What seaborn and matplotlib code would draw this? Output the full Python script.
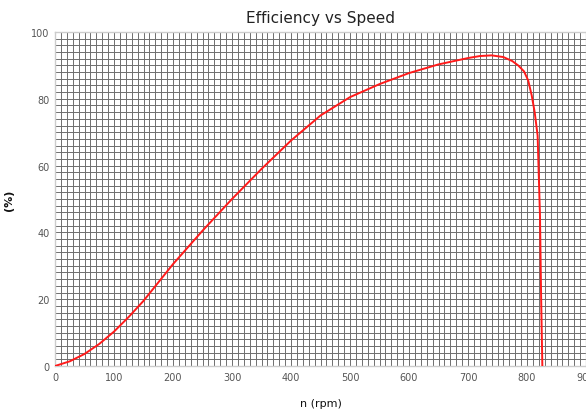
import numpy as np
import pandas as pd
import matplotlib
matplotlib.use("Agg")
import matplotlib.pyplot as plt
import seaborn as sns

speed_rpm = [0, 25, 50, 75, 100, 125, 150, 175, 200, 250, 300, 350, 400, 450, 500,
             550, 600, 650, 700, 720, 740, 760, 775, 785, 795, 802, 808, 813, 818, 822, 824, 826]
efficiency_pct = [0, 1.4, 3.6, 6.6, 10.3, 14.7, 19.5, 25, 30.5, 40.5, 50, 59, 67.5, 75, 80.5,
                  84.4, 87.7, 90.3, 92.2, 92.8, 93, 92.5, 91.3, 90, 88.2, 85.5, 81, 76, 69, 45, 20, 0]

x_ticks = [0, 100, 200, 300, 400, 500, 600, 700, 800, 900]
y_ticks = [0, 20, 40, 60, 80, 100]

sns.set_style("white")
plt.rcParams['font.family'] = ['DejaVu Sans']

df = pd.DataFrame({"n": speed_rpm, "eff": efficiency_pct})

fig = plt.figure(figsize=(5.86, 4.14), dpi=100)
ax = fig.add_axes([55/586, 1 - 367/414, 531/586, (367 - 33)/414])

# dense graph-paper grid
for xv in np.arange(0, 901, 10):
    ax.axvline(xv, color="#6e6e6e", lw=0.7, zorder=1)
for yv in np.arange(0, 101, 2):
    ax.axhline(yv, color="#6e6e6e", lw=0.7, zorder=1)

sns.lineplot(data=df, x="n", y="eff", ax=ax, color="#ff1a1a", lw=1.4,
             estimator=None, sort=False, zorder=3)

ax.set_xlim(0, 900)
ax.set_ylim(0, 100)
ax.set_xticks(x_ticks)
ax.set_yticks(y_ticks)
ax.tick_params(axis="both", length=0, labelsize=7, colors="#555555", pad=4)
for s in ax.spines.values():
    s.set_color("#cccccc")
    s.set_linewidth(1.0)

ax.set_title("Efficiency vs Speed", fontsize=11, color="#222222", pad=7)
ax.set_xlabel("n (rpm)", fontsize=8, color="#111111", labelpad=12)
ax.set_ylabel("(%)", fontsize=8, color="#111111", labelpad=12, fontweight="bold")

fig.savefig("out.png", dpi=100)
